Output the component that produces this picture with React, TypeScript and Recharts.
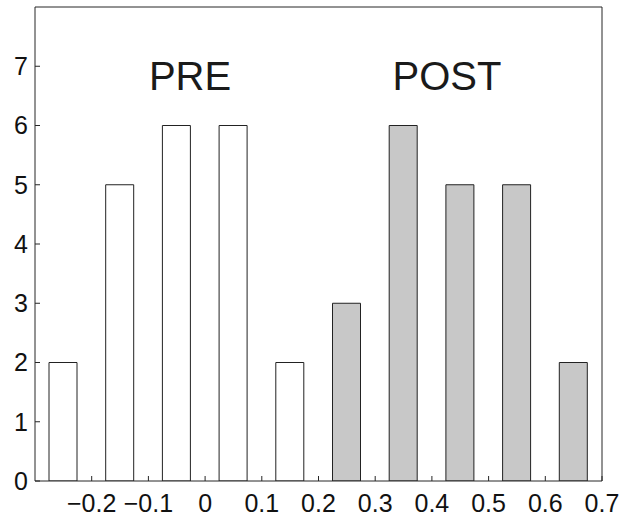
import React from 'react';
import { ComposedChart, Bar, XAxis, YAxis, Cell } from 'recharts';

const preBins = [-0.25, -0.15, -0.05, 0.05, 0.15];
const preCounts = [2, 5, 6, 6, 2];
const postBins = [0.25, 0.35, 0.45, 0.55, 0.65];
const postCounts = [3, 6, 5, 5, 2];
const xTicks = [-0.2, -0.1, 0, 0.1, 0.2, 0.3, 0.4, 0.5, 0.6, 0.7];
const yTicks = [0, 1, 2, 3, 4, 5, 6, 7];

const data = [
  ...preBins.map((x, i) => ({ x, count: preCounts[i], group: 'pre' })),
  ...postBins.map((x, i) => ({ x, count: postCounts[i], group: 'post' })),
];

const fmt = (v: number) => {
  if (v === 0) return '0';
  const s = String(v);
  return s.replace('-', '\u2212');
};

const FONT = '"Liberation Sans", Arial, sans-serif';
const AXIS = '#262626';

export default function App() {
  return (
    <div style={{ position: 'absolute', left: 0, top: 0, width: 627, height: 514, background: '#fff' }}>
      <ComposedChart
        width={627}
        height={514}
        data={data}
        margin={{ top: 6, right: 24, bottom: 0, left: 0 }}
        style={{ fontFamily: FONT }}
      >
        <XAxis
          dataKey="x"
          type="number"
          domain={[-0.3, 0.7]}
          ticks={xTicks}
          tickFormatter={fmt}
          allowDataOverflow
          height={33}
          tickSize={-5}
          tickMargin={18}
          stroke={AXIS}
          fontSize={25}
          tick={{ fill: '#111', fontSize: 25, fontFamily: FONT }}
          interval={0}
        />
        <XAxis
          xAxisId="top"
          dataKey="x"
          type="number"
          orientation="top"
          domain={[-0.3, 0.7]}
          ticks={xTicks}
          allowDataOverflow
          height={1}
          tickSize={-5}
          tick={false}
          stroke={AXIS}
          interval={0}
        />
        <YAxis
          type="number"
          domain={[0, 8]}
          ticks={yTicks}
          width={35}
          tickSize={-5}
          tickMargin={12}
          stroke={AXIS}
          fontSize={25}
          tick={{ fill: '#111', fontSize: 25, fontFamily: FONT }}
          interval={0}
          allowDataOverflow
        />
        <YAxis
          yAxisId="right"
          orientation="right"
          type="number"
          domain={[0, 8]}
          ticks={yTicks}
          width={1}
          tickSize={-5}
          tick={false}
          stroke={AXIS}
          interval={0}
          allowDataOverflow
        />
        <Bar dataKey="count" barSize={28} isAnimationActive={false} stroke="#222" strokeWidth={1}>
          {data.map((d, i) => (
            <Cell key={i} fill={d.group === 'post' ? '#c8c8c8' : '#ffffff'} />
          ))}
        </Bar>
      </ComposedChart>
      <svg width={627} height={514} style={{ position: 'absolute', left: 0, top: 0, pointerEvents: 'none' }}>
        <text x={190} y={90} textAnchor="middle" fontSize={40} fontFamily={FONT} fill="#1a1a1a">PRE</text>
        <text x={447} y={90} textAnchor="middle" fontSize={40} fontFamily={FONT} fill="#1a1a1a">POST</text>
      </svg>
    </div>
  );
}
